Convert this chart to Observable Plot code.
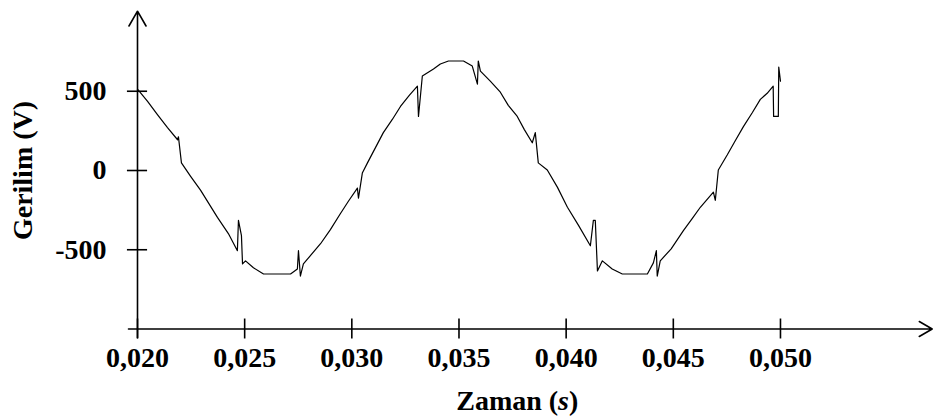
<!DOCTYPE html>
<html><head><meta charset="utf-8">
<script src="https://cdn.jsdelivr.net/npm/d3@7"></script>
<script src="https://cdn.jsdelivr.net/npm/@observablehq/plot@0.6"></script>
<style>body{margin:0;background:#fff} svg{display:block}</style>
</head><body><div id="chart"></div>
<script>
const timeS = [0.02000,0.02047,0.02093,0.02140,0.02187,0.02191,0.02205,0.02247,0.02294,0.02373,0.02424,0.02466,0.02471,0.02485,0.02490,0.02504,0.02541,0.02588,0.02714,0.02746,0.02751,0.02760,0.02774,0.02854,0.02900,0.02947,0.02984,0.03026,0.03031,0.03049,0.03073,0.03147,0.03189,0.03227,0.03269,0.03306,0.03311,0.03329,0.03381,0.03413,0.03451,0.03521,0.03562,0.03586,0.03590,0.03600,0.03646,0.03693,0.03730,0.03772,0.03805,0.03842,0.03856,0.03870,0.03912,0.03959,0.04006,0.04057,0.04113,0.04127,0.04136,0.04146,0.04169,0.04215,0.04262,0.04379,0.04407,0.04421,0.04425,0.04439,0.04490,0.04547,0.04588,0.04626,0.04687,0.04696,0.04710,0.04752,0.04789,0.04827,0.04869,0.04906,0.04938,0.04966,0.04968,0.04990,0.04992,0.05000];
const voltV = [513,436,353,271,194,213,48,-35,-124,-296,-398,-506,-315,-411,-589,-570,-614,-653,-653,-621,-506,-666,-589,-462,-373,-271,-194,-111,-175,-16,48,239,322,404,475,532,341,596,640,672,691,691,659,545,691,627,564,494,411,341,258,175,239,48,3,-105,-232,-345,-475,-315,-315,-634,-570,-621,-653,-653,-583,-506,-666,-570,-494,-379,-303,-232,-137,-188,3,99,188,277,366,449,487,532,341,341,653,564];
const xTicks = [0.020,0.025,0.030,0.035,0.040,0.045,0.050];
const xTickLabels = ["0,020","0,025","0,030","0,035","0,040","0,045","0,050"];
const yTicks = [500,0,-500];
const yTickLabels = ["500","0","-500"];
const xTitle = "Zaman (s)";
const yTitle = "Gerilim (V)";

const wave = timeS.map((t,i)=>({t, v: voltV[i]}));
const font = {fontFamily:"'Liberation Serif', 'Times New Roman', serif", fontSize:28, fontWeight:"bold", fill:"#000"};
const chart = Plot.plot({
  width:936, height:420,
  marginLeft:137, marginRight:6, marginTop:11.5, marginBottom:91.5,
  x:{domain:[0.020,0.057], axis:null},
  y:{domain:[-1000,1000], axis:null},
  style:{background:"#fff", color:"#000"},
  marks:[
    Plot.arrow([{x1:0.020,y1:-1055,x2:0.020,y2:1005}], {x1:"x1",y1:"y1",x2:"x2",y2:"y2", stroke:"#000", strokeWidth:1.6, headLength:16}),
    Plot.arrow([{x1:0.01958,y1:-1000,x2:0.05708,y2:-1000}], {x1:"x1",y1:"y1",x2:"x2",y2:"y2", stroke:"#000", strokeWidth:1.6, headLength:14}),
    Plot.ruleX(xTicks, {x:d=>d, y1:-1063, y2:-937, stroke:"#000", strokeWidth:1.6}),
    Plot.ruleY(yTicks, {y:d=>d, x1:0.01953, x2:0.02047, stroke:"#000", strokeWidth:1.6}),
    Plot.line(wave, {x:"t", y:"v", stroke:"#000", strokeWidth:1.2}),
    Plot.text(xTicks, {x:d=>d, y:-1000, dy:29, text:(d,i)=>xTickLabels[i], ...font}),
    Plot.text(yTicks, {x:0.020, y:d=>d, dx:-31, textAnchor:"end", text:(d,i)=>yTickLabels[i], ...font}),
    Plot.text([yTitle], {x:0.020, y:0, dx:-114, rotate:-90, text:d=>d, ...font}),
    Plot.text([xTitle], {x:0.03772, y:-1000, dy:72, text:d=>d, ...font})
  ]
});
document.getElementById("chart").appendChild(chart);
d3.select(chart).selectAll("text").each(function(){
  if (this.textContent === xTitle) {
    const el = d3.select(this);
    el.text(null);
    el.append("tspan").text("Zaman (");
    el.append("tspan").attr("font-style","italic").text("s");
    el.append("tspan").text(")");
  }
});
</script>
</body></html>
